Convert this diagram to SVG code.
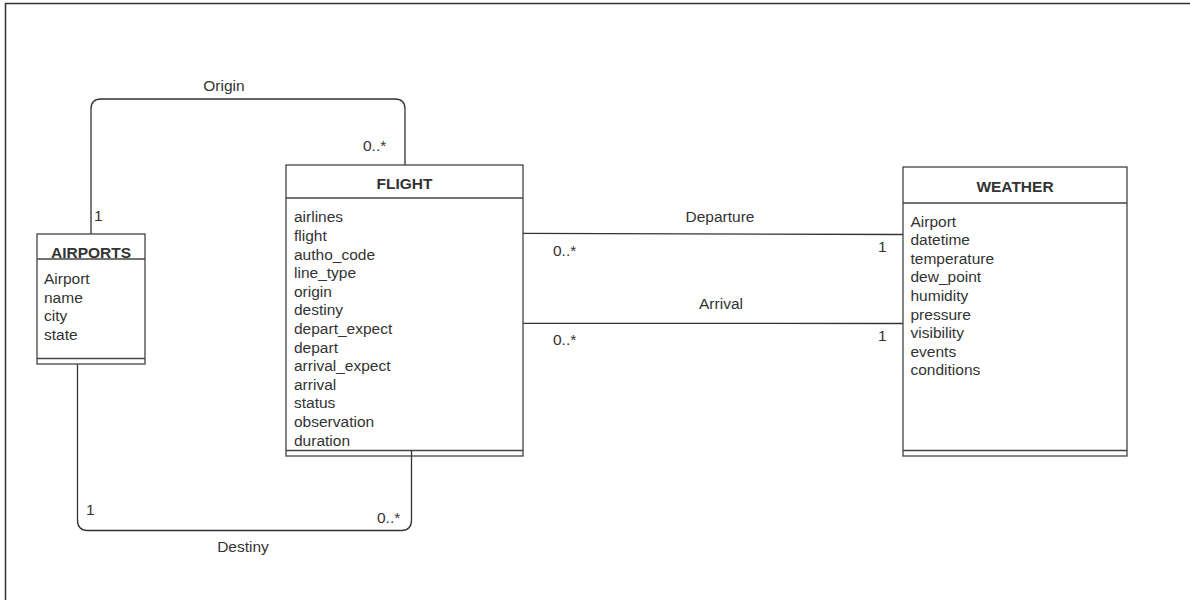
<svg xmlns="http://www.w3.org/2000/svg" width="1190" height="600" viewBox="0 0 1190 600">
<style>
  text { font-family: "Liberation Sans", Arial, sans-serif; font-size: 15.5px; fill: #333; }
  .title { font-weight: bold; text-anchor: middle; }
  .mid { text-anchor: middle; }
  .box { fill: #fff; stroke: #444; stroke-width: 1.3; }
  .sep { stroke: #444; stroke-width: 1.3; fill: none; }
  .conn { stroke: #333; stroke-width: 1.3; fill: none; }
  .frame { stroke: #333; stroke-width: 1.5; fill: none; }
</style>
<rect width="1190" height="600" fill="#fff"/>
<path class="frame" d="M5.5,600 V3.5 H1190"/>

<g id="connectors">
  <g id="origin">
    <path class="conn" d="M91,234 V109 Q91,99 101,99 H395 Q405,99 405,109 V165"/>
    <text class="mid" x="224" y="91">Origin</text>
    <text x="363" y="151">0..*</text>
    <text x="94" y="220.5">1</text>
  </g>
  <g id="destiny">
    <path class="conn" d="M77.5,364 V520 Q77.5,530.5 87.5,530.5 H401.5 Q411.5,530.5 411.5,520 V450"/>
    <text class="mid" x="243" y="552">Destiny</text>
    <text x="377" y="523">0..*</text>
    <text x="86" y="514.5">1</text>
  </g>
  <g id="departure">
    <path class="conn" d="M523,233.3 L903,234.5"/>
    <text class="mid" x="720" y="222">Departure</text>
    <text x="553" y="256">0..*</text>
    <text x="878" y="252">1</text>
  </g>
  <g id="arrival">
    <path class="conn" d="M523,323.3 L903,323.5"/>
    <text class="mid" x="721" y="309">Arrival</text>
    <text x="553" y="345">0..*</text>
    <text x="878" y="340.5">1</text>
  </g>
</g>

<g id="airports">
  <rect class="box" x="37" y="234" width="108" height="130"/>
  <line class="sep" x1="37" y1="259" x2="145" y2="259"/>
  <line class="sep" x1="37" y1="358.5" x2="145" y2="358.5"/>
  <text class="title" x="91" y="257.5">AIRPORTS</text>
  <text x="44" y="284">Airport</text>
  <text x="44" y="302.7">name</text>
  <text x="44" y="321.4">city</text>
  <text x="44" y="340">state</text>
</g>

<g id="flight">
  <rect class="box" x="286" y="165" width="237" height="291"/>
  <line class="sep" x1="286" y1="198" x2="523" y2="198"/>
  <line class="sep" x1="286" y1="450.5" x2="523" y2="450.5"/>
  <line class="conn" x1="411.5" y1="450" x2="411.5" y2="456"/>
  <text class="title" x="404.5" y="188.6">FLIGHT</text>
  <text x="294" y="222.3">airlines</text>
  <text x="294" y="240.9">flight</text>
  <text x="294" y="259.5">autho_code</text>
  <text x="294" y="278.1">line_type</text>
  <text x="294" y="296.7">origin</text>
  <text x="294" y="315.3">destiny</text>
  <text x="294" y="333.9">depart_expect</text>
  <text x="294" y="352.5">depart</text>
  <text x="294" y="371.1">arrival_expect</text>
  <text x="294" y="389.7">arrival</text>
  <text x="294" y="408.3">status</text>
  <text x="294" y="426.9">observation</text>
  <text x="294" y="445.5">duration</text>
</g>

<g id="weather">
  <rect class="box" x="903" y="167" width="224" height="289"/>
  <line class="sep" x1="903" y1="203" x2="1127" y2="203"/>
  <line class="sep" x1="903" y1="450.5" x2="1127" y2="450.5"/>
  <text class="title" x="1015" y="192.3">WEATHER</text>
  <text x="910.5" y="226.5">Airport</text>
  <text x="910.5" y="245.1">datetime</text>
  <text x="910.5" y="263.7">temperature</text>
  <text x="910.5" y="282.3">dew_point</text>
  <text x="910.5" y="300.9">humidity</text>
  <text x="910.5" y="319.5">pressure</text>
  <text x="910.5" y="338.1">visibility</text>
  <text x="910.5" y="356.7">events</text>
  <text x="910.5" y="375.3">conditions</text>
</g>
</svg>
